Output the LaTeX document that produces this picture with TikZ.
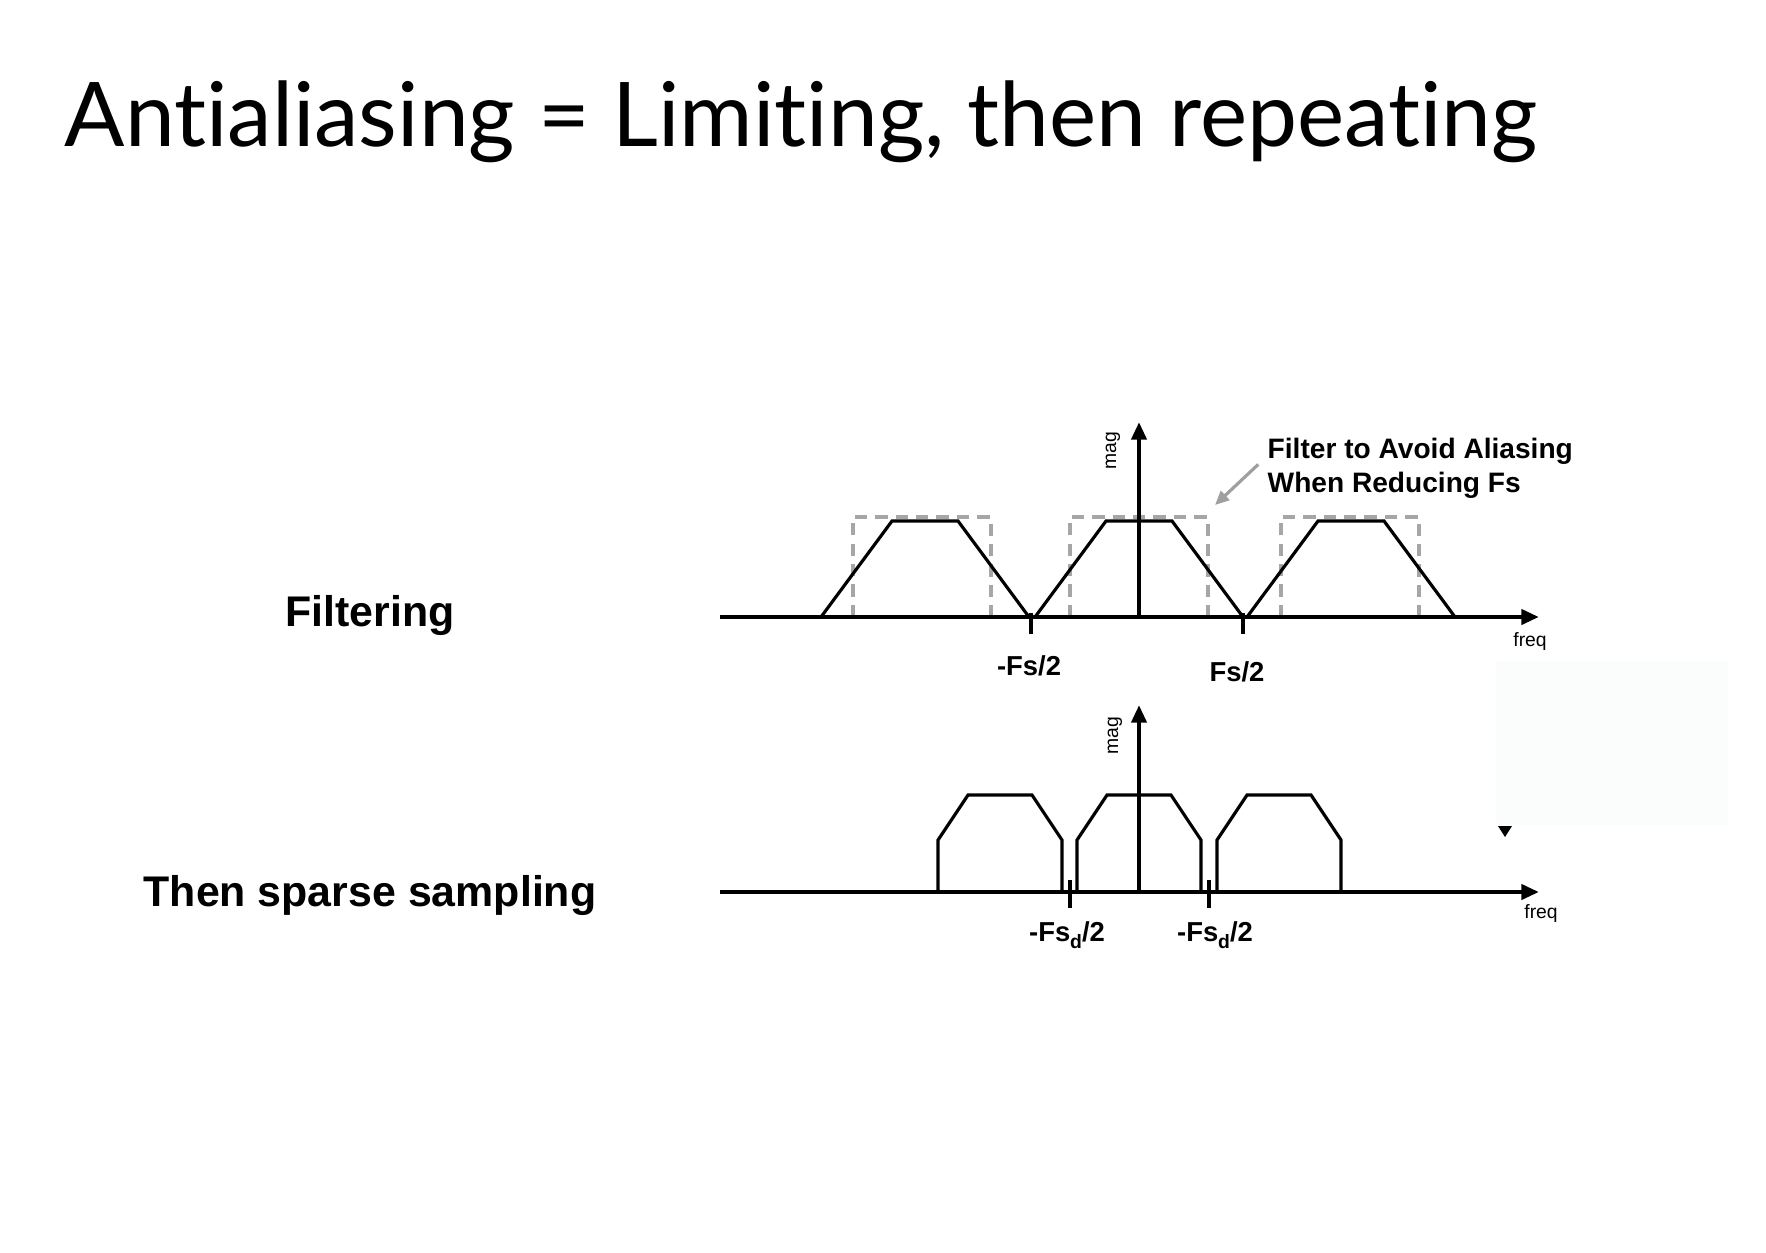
\documentclass[tikz,border=0pt]{standalone}
\usepackage{fontspec}
\setmainfont{Liberation Sans}
\newfontfamily\titlefont[Ligatures={NoCommon}]{Lato}
\usetikzlibrary{arrows.meta}
\definecolor{faint}{RGB}{251,252,252}
\begin{document}
\begin{tikzpicture}[x=0.1mm,y=-0.1mm,
  axisline/.style={line width=1.35pt, -{Triangle[length=5pt,width=4.2pt]}},
  spec/.style={line width=0.9pt, line join=miter},
  filterbox/.style={gray!70, line width=0.9pt, dash pattern=on 3.5pt off 2.3pt},
  tickmark/.style={line width=0.9pt},
  lbl/.style={font=\bfseries\fontsize{7.8}{9}\selectfont, inner sep=0pt},
  note/.style={font=\bfseries\fontsize{8}{9.7}\selectfont, inner sep=0pt, align=left},
  small/.style={font=\fontsize{5.5}{6}\selectfont, inner sep=0pt},
  side/.style={font=\bfseries\fontsize{12.2}{14}\selectfont, inner sep=0pt}]
\useasboundingbox (0,0) rectangle (1766,1252);
\fill[white] (0,0) rectangle (1766,1252);
% title
\node[anchor=base west, inner sep=0pt, font=\titlefont\fontsize{25.4}{30}\selectfont] (title) at (64,146) {Antialiasing = Limiting, then repeating};
% side labels
\node[side] (filt) at (370,615) {Filtering};
\node[side] (sparse) at (370,895) {Then sparse sampling};
% faint panel
\fill[faint] (1496,662) rectangle (1728,825);
% ---------- top plot ----------
\foreach \c in {922,1139,1350}
  \draw[filterbox] (\c-69,617) -- (\c-69,517) -- (\c+69,517) -- (\c+69,617);
\foreach \c in {925,1139,1351}
  \draw[spec] (\c-104,617) -- (\c-33,521) -- (\c+33,521) -- (\c+104,617);
\coordinate (a1s) at (720,617);
\coordinate (a1e) at (1539,617);
\draw[axisline] (a1s) -- (a1e);
\coordinate (m1s) at (1139,617);
\coordinate (m1e) at (1139,422);
\draw[axisline] (m1s) -- (m1e);
\coordinate (t1a) at (1031,613); \coordinate (t1b) at (1031,634);
\coordinate (t2a) at (1243,613); \coordinate (t2b) at (1243,634);
\draw[tickmark] (t1a) -- (t1b);
\draw[tickmark] (t2a) -- (t2b);
\node[lbl] (fsn) at (1029,666) {-Fs/2};
\node[lbl] (fsp) at (1237,672) {Fs/2};
\node[small] (freq1) at (1530,642) {freq};
\node[small, rotate=90] (mag1) at (1113,451) {mag};
\node[note, anchor=north west] (notetext) at (1267,437) {Filter to Avoid Aliasing\\When Reducing Fs};
\coordinate (notetip) at (1215,505);
\draw[gray!75, line width=0.9pt, -{Triangle[length=4pt,width=3.5pt]}] ([xshift=-2.5pt,yshift=1pt]notetext.west) -- (notetip);
% ---------- bottom plot ----------
\foreach \c in {1000,1139,1279}
  \draw[spec] (\c-62,892) -- (\c-62,840) -- (\c-32,795) -- (\c+32,795) -- (\c+62,840) -- (\c+62,892);
\coordinate (a2s) at (720,892);
\coordinate (a2e) at (1539,892);
\draw[axisline] (a2s) -- (a2e);
\coordinate (m2s) at (1139,892);
\coordinate (m2e) at (1139,705);
\draw[axisline] (m2s) -- (m2e);
\coordinate (t3a) at (1070,880); \coordinate (t3b) at (1070,908);
\coordinate (t4a) at (1209,880); \coordinate (t4b) at (1209,908);
\draw[tickmark] (t3a) -- (t3b);
\draw[tickmark] (t4a) -- (t4b);
\node[lbl] (fsdn) at (1067,935) {-Fs\raisebox{-0.45ex}{\fontsize{5.5}{6}\selectfont d}/2};
\node[lbl] (fsdp) at (1215,935) {-Fs\raisebox{-0.45ex}{\fontsize{5.5}{6}\selectfont d}/2};
\node[small] (freq2) at (1541,913) {freq};
\node[small, rotate=90] (mag2) at (1115,736) {mag};
\fill (1498,826) -- (1512,826) -- (1505,837) -- cycle;
\end{tikzpicture}
\end{document}
